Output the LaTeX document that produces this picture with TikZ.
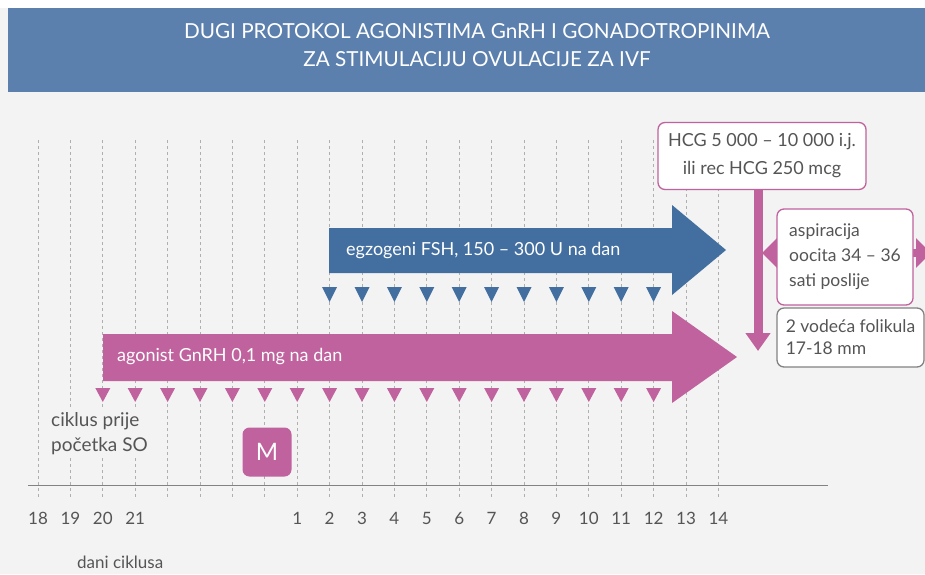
\documentclass[tikz,border=0pt]{standalone}
\usepackage{fontspec}
\setmainfont{Lato}
\usetikzlibrary{arrows.meta,positioning}
\definecolor{bandblue}{RGB}{92,128,174}
\definecolor{fshblue}{RGB}{66,110,160}
\definecolor{gnrhpink}{RGB}{192,98,158}
\definecolor{textgray}{RGB}{85,85,85}
\definecolor{boxgray}{RGB}{130,130,130}
\definecolor{linegray}{RGB}{175,175,175}
\definecolor{bggray}{RGB}{243,243,243}
\tikzset{
    dayline/.style={linegray, dash pattern=on 3pt off 3pt, line width=0.7pt},
    axisline/.style={boxgray, line width=0.9pt},
    daylabel/.style={textgray, font=\fontsize{17}{20}\selectfont, inner sep=0pt},
    title/.style={white, font=\fontsize{20.7}{28}\selectfont, align=center, inner sep=0pt},
    barlabel/.style={white, font=\fontsize{18}{20}\selectfont, anchor=west, inner sep=0pt},
    infobox/.style={draw=gnrhpink, line width=1.3pt, rounded corners=7pt, fill=white,
        text=textgray, font=\fontsize{17.5}{25}\selectfont, align=left, inner xsep=6pt},
    mbox/.style={fill=gnrhpink, rounded corners=7pt, minimum size=49pt, text=white,
        font=\fontsize{24}{26}\selectfont},
    hcgarrow/.style={gnrhpink, line width=9pt, -{Triangle[width=24pt,length=18pt]}},
    asparrow/.style={gnrhpink, line width=8pt,
        {Triangle[width=29pt,length=15pt]}-{Triangle[width=29pt,length=15pt]}},
}

\begin{document}
\begin{tikzpicture}[x=1pt,y=-1pt]
\useasboundingbox (0,0) rectangle (925,574);
\fill[bggray] (0,0) rectangle (925,574);
\fill[white] (0,0) rectangle (925,8);

    % header
    \fill[bandblue] (8,8) rectangle (925,92);
    \node[title] (head) at (477,45) {DUGI PROTOKOL AGONISTIMA GnRH I GONADOTROPINIMA\\ZA STIMULACIJU OVULACIJE ZA IVF};

    % day lines and axis
    \foreach \k in {0,...,21} {
        \coordinate (top\k) at ({38+32.4*\k},140);
        \coordinate (bot\k) at ({38+32.4*\k},497);
        \draw[dayline] (top\k) -- (bot\k);
    }
    \coordinate (axl) at (28,485);
    \coordinate (axr) at (828,485);
    \draw[axisline] (axl) -- (axr);

    % day numbers
    \foreach \k/\d in {0/18,1/19,2/20,3/21,8/1,9/2,10/3,11/4,12/5,13/6,14/7,15/8,16/9,17/10,18/11,19/12,20/13,21/14}
        \node[daylabel] (day\d) at ({38+32.4*\k},518) {\d};
    \node[daylabel, anchor=west] (dani) at (77,562) {dani ciklusa};
    \node[daylabel, font=\fontsize{19}{25}\selectfont, align=left, anchor=north west,
        fill=bggray, inner sep=2pt] (prije) at (49,410) {ciklus prije\\početka SO};
    \node[mbox] (m) at (267,452) {M};

    % FSH arrow
    \fill[fshblue] (329,228) -- (672,228) -- (672,205) -- (726,250) -- (672,295)
        -- (672,273) -- (329,273) -- cycle;
    \node[barlabel] (fsh) at (346,251) {egzogeni FSH, 150 -- 300 U na dan};
    \foreach \k in {9,...,19}
        \fill[fshblue] ({38+32.4*\k-7.5},287) -- ({38+32.4*\k+7.5},287) -- ({38+32.4*\k},302) -- cycle;

    % GnRH arrow
    \fill[gnrhpink] (103,334) -- (672,334) -- (672,311) -- (737,357) -- (672,403)
        -- (672,381) -- (103,381) -- cycle;
    \node[barlabel] (gnrh) at (117,357) {agonist GnRH 0,1 mg na dan};
    \foreach \k in {2,...,19}
        \fill[gnrhpink] ({38+32.4*\k-7.5},388) -- ({38+32.4*\k+7.5},388) -- ({38+32.4*\k},402) -- cycle;

    % HCG and aspiration
    \coordinate (aspl) at (762,253);
    \coordinate (aspr) at (931,253);
    \draw[asparrow] (aspl) -- (aspr);
    \node[infobox, align=center, minimum width=208pt, minimum height=67pt, font=\fontsize{18}{28}\selectfont]
        (hcg) at (762,156) {HCG 5 000 -- 10 000 i.j.\\ili rec HCG 250 mcg};
    \coordinate (hcgtip) at (758,351);
    \draw[hcgarrow] (hcg.south -| hcgtip) -- (hcgtip);
    \node[infobox, minimum width=136pt, minimum height=96pt]
        (asp) at (845,257) {aspiracija\\oocita 34 -- 36\\sati poslije};
    \node[infobox, draw=boxgray, minimum width=147pt, minimum height=59pt,
        font=\fontsize{17.5}{22}\selectfont] (fol) at (850.5,337.5) {2 vodeća folikula\\17-18 mm};

\end{tikzpicture}
\end{document}
